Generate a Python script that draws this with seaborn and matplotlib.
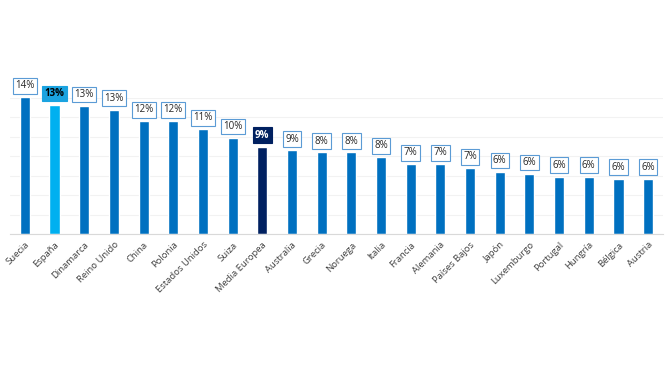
import seaborn as sns
import matplotlib.pyplot as plt

countries = ['Suecia', 'España', 'Dinamarca', 'Reino Unido', 'China', 'Polonia',
             'Estados Unidos', 'Suiza', 'Media Europea', 'Australia', 'Grecia',
             'Noruega', 'Italia', 'Francia', 'Alemania', 'Países Bajos', 'Japón',
             'Luxemburgo', 'Portugal', 'Hungría', 'Bélgica', 'Austria']
values = [14.1, 13.3, 13.2, 12.8, 11.6, 11.6, 10.8, 9.9, 9.0, 8.6, 8.4,
          8.4, 7.9, 7.2, 7.2, 6.8, 6.4, 6.2, 5.9, 5.9, 5.7, 5.7]

BLUE = '#0070C0'
SPAIN = '#00B0F0'
EUROPE = '#002060'


def main():
    sns.set_style('white')
    plt.rcParams['font.family'] = ['Open Sans', 'DejaVu Sans']

    colors = {c: BLUE for c in countries}
    colors['España'] = SPAIN
    colors['Media Europea'] = EUROPE

    fig = plt.figure(figsize=(6.72, 3.78), dpi=100)
    ax = fig.add_axes([0.0149, 0.381, 0.9717, 0.3597])
    sns.barplot(x=countries, y=values, hue=countries, palette=colors,
                width=0.34, legend=False, saturation=1, ax=ax)

    ax.set_ylim(0, 14)
    ax.set_xlim(-0.5, len(countries) - 0.5)
    ax.set_yticks(range(0, 15, 2))
    ax.yaxis.grid(True, color='#f2f2f2', linewidth=0.8)
    ax.set_axisbelow(True)
    ax.tick_params(axis='y', left=False, labelleft=False)
    ax.tick_params(axis='x', bottom=False, pad=1)
    ax.set_xlabel('')
    ax.set_ylabel('')
    for side in ['left', 'right', 'top']:
        ax.spines[side].set_visible(False)
    ax.spines['bottom'].set_color('#d9d9d9')
    ax.spines['bottom'].set_linewidth(0.8)

    ax.set_xticks(range(len(countries)))
    ax.set_xticklabels(countries, rotation=45, ha='right', rotation_mode='anchor',
                       fontsize=6.8, color='#404040')

    # Data labels in boxes above each bar
    for i, (c, v) in enumerate(zip(countries, values)):
        label = f'{round(v):.0f}%'
        if c == 'España':
            box = dict(boxstyle='square,pad=0.25', fc='#1aa3e0', ec='#1aa3e0', lw=0.8)
            ax.text(i, v + 0.6, label, ha='center', va='bottom', fontsize=7,
                    fontweight='bold', color='black', bbox=box, clip_on=False)
        elif c == 'Media Europea':
            box = dict(boxstyle='square,pad=0.25', fc=EUROPE, ec=EUROPE, lw=0.8)
            ax.text(i, v + 0.6, label, ha='center', va='bottom', fontsize=7,
                    fontweight='bold', color='white', bbox=box, clip_on=False)
        else:
            box = dict(boxstyle='square,pad=0.25', fc='white', ec='#5b9bd5', lw=0.8)
            ax.text(i, v + 0.6, label, ha='center', va='bottom', fontsize=7,
                    color='#262626', bbox=box, clip_on=False)

    fig.savefig('out.png', dpi=100)


if __name__ == '__main__':
    main()
